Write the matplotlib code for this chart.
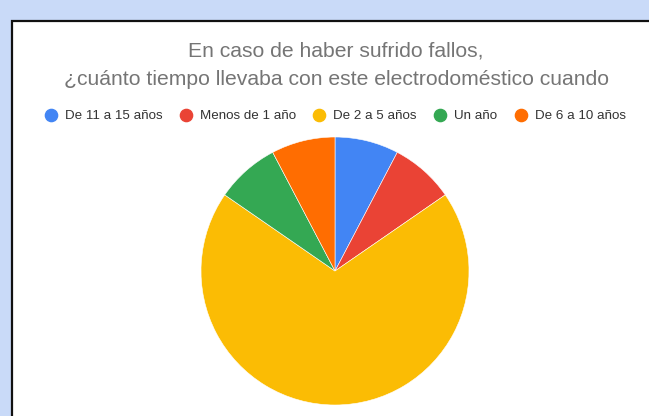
import matplotlib
matplotlib.use('Agg')
import matplotlib.pyplot as plt
from matplotlib.patches import Rectangle
from matplotlib.lines import Line2D

plt.rcParams['font.family'] = ['Liberation Sans', 'DejaVu Sans']

# datos de la encuesta
categorias = ['De 11 a 15 años', 'Menos de 1 año', 'De 2 a 5 años', 'Un año', 'De 6 a 10 años']
respuestas = [1, 1, 9, 1, 1]
colores = ['#4285f4', '#ea4335', '#fbbc04', '#34a853', '#ff6d01']
titulo = 'En caso de haber sufrido fallos,\n¿cuánto tiempo llevaba con este electrodoméstico cuando'

W, H = 649, 416
fig = plt.figure(figsize=(W / 100, H / 100), dpi=100)
fig.patch.set_facecolor('#c9daf8')

# panel blanco con borde negro (solo izquierda y arriba visibles)
bg = fig.add_axes([0, 0, 1, 1], zorder=-5)
bg.axis('off')
bg.set_xlim(0, W)
bg.set_ylim(H, 0)
bg.add_patch(Rectangle((12, 21), W + 50, H + 50, facecolor='white',
                       edgecolor='#111111', lw=1.6))

fig.text(336 / W, 1 - 65.5 / H, titulo, ha='center', va='center', fontsize=15.2,
         color='#757575', linespacing=1.65)

# leyenda
handles = [Line2D([], [], marker='o', ls='', markersize=8.8, markerfacecolor=c,
                  markeredgecolor=c) for c in colores]
fig.legend(handles, categorias, loc='center', bbox_to_anchor=(335 / W, 1 - 116 / H),
           ncol=5, frameon=False, fontsize=9.6, handletextpad=0.55, columnspacing=1.25,
           handlelength=1.0, labelcolor='#333333')

# tarta
cx, cy, r = 335, 271, 134
ax = fig.add_axes([(cx - r) / W, (H - cy - r) / H, 2 * r / W, 2 * r / H])
ax.pie(respuestas, colors=colores, startangle=90, counterclock=False, radius=1,
       wedgeprops=dict(edgecolor='white', linewidth=0.4))
ax.set_xlim(-1, 1)
ax.set_ylim(-1, 1)
ax.set_aspect('auto')
ax.axis('off')

fig.savefig('out.png', dpi=100)
